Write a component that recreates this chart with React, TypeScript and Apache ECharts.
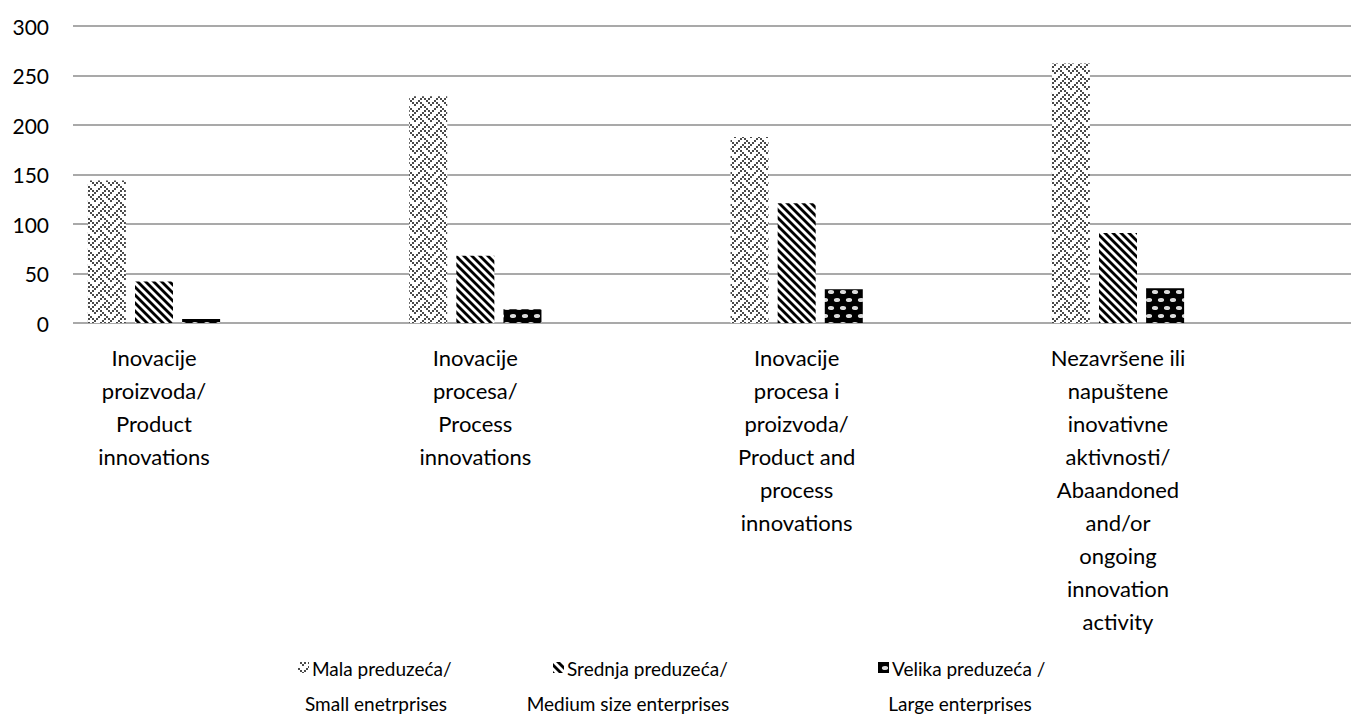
import React, { useEffect, useRef } from 'react';
import * as echarts from 'echarts';

const categories = [
  'Inovacije\nproizvoda/\nProduct\ninnovations',
  'Inovacije\nprocesa/\nProcess\ninnovations',
  'Inovacije\nprocesa i\nproizvoda/\nProduct and\nprocess\ninnovations',
  'Nezavršene ili\nnapuštene\ninovativne\naktivnosti/\nAbaandoned\nand/or\nongoing\ninnovation\nactivity',
];
const smallValues = [144, 229, 188, 262];
const mediumValues = [42, 68, 121, 91];
const largeValues = [4, 14, 34, 35];
const seriesNames = ['Mala preduzeća/', 'Srednja preduzeća/', 'Velika preduzeća /'];
const seriesNamesLine2 = ['Small enetrprises', 'Medium size enterprises', 'Large enterprises'];
const yMin = 0;
const yMax = 300;
const yInterval = 50;

const FONT = 'Lato, "Open Sans", sans-serif';

function tile(w: number, h: number, draw: (ctx: CanvasRenderingContext2D) => void) {
  const c = document.createElement('canvas');
  c.width = w;
  c.height = h;
  const ctx = c.getContext('2d') as CanvasRenderingContext2D;
  draw(ctx);
  return { image: c.toDataURL(), imageWidth: w, imageHeight: h, repeat: 'repeat' };
}

function makePatterns() {
  const weaveBits = [0x11, 0x2a, 0x44, 0xa2, 0x11, 0x28, 0x44, 0x8a];
  const weave = tile(16, 16, (ctx) => {
    ctx.fillStyle = '#ffffff';
    ctx.fillRect(0, 0, 16, 16);
    ctx.fillStyle = '#4a4a4a';
    for (let r = 0; r < 8; r++) {
      for (let b = 0; b < 8; b++) {
        if (weaveBits[r] & (0x80 >> b)) ctx.fillRect(b * 2, r * 2, 2, 2);
      }
    }
  });
  const stripes = tile(8, 8, (ctx) => {
    ctx.fillStyle = '#ffffff';
    ctx.fillRect(0, 0, 8, 8);
    ctx.strokeStyle = '#000000';
    ctx.lineWidth = 2.8;
    for (const o of [-8, 0, 8]) {
      ctx.beginPath();
      ctx.moveTo(o - 1, -1);
      ctx.lineTo(o + 9, 9);
      ctx.stroke();
    }
  });
  const dots = tile(12, 16, (ctx) => {
    ctx.fillStyle = '#000000';
    ctx.fillRect(0, 0, 12, 16);
    ctx.fillStyle = '#dcdcdc';
    for (const [cx, cy] of [[3, 4], [9, 12]]) {
      ctx.beginPath();
      ctx.ellipse(cx, cy, 3.1, 2.0, 0, 0, Math.PI * 2);
      ctx.fill();
    }
  });
  return [weave, stripes, dots];
}

export default function App() {
  const ref = useRef<HTMLDivElement>(null);
  useEffect(() => {
    if (!ref.current) return;
    const chart = echarts.init(ref.current, null, { renderer: 'svg' });
    const patterns = makePatterns();
    const values = [smallValues, mediumValues, largeValues];

    const legendIconX = [298, 553, 878];
    const legendLine2X = [376, 628, 960];
    const legendGraphics: any[] = [];
    for (let i = 0; i < 3; i++) {
      legendGraphics.push({
        type: 'rect',
        shape: { x: legendIconX[i], y: 662, width: 11, height: 11 },
        style: { fill: patterns[i] as any },
      });
      legendGraphics.push({
        type: 'text',
        style: {
          text: seriesNames[i], x: legendIconX[i] + 14, y: 668,
          font: `19px ${FONT}`, fill: '#000', textAlign: 'left', textVerticalAlign: 'middle',
          align: 'left', verticalAlign: 'middle',
        },
      });
      legendGraphics.push({
        type: 'text',
        style: {
          text: seriesNamesLine2[i], x: legendLine2X[i], y: 703,
          font: `19px ${FONT}`, fill: '#000', textAlign: 'center', textVerticalAlign: 'middle',
          align: 'center', verticalAlign: 'middle',
        },
      });
    }

    chart.setOption({
      animation: false,
      backgroundColor: '#ffffff',
      grid: [
        { left: 73, right: 0, top: 26, height: 297 },
        { left: 154, right: 233, top: 26, height: 297 },
      ],
      xAxis: [
        { type: 'category', gridIndex: 0, data: categories, show: false },
        {
          type: 'category', gridIndex: 1, data: categories, boundaryGap: false,
          axisLine: { show: false }, axisTick: { show: false },
          axisLabel: {
            interval: 0, margin: 18, color: '#000', fontSize: 22, fontFamily: FONT,
            lineHeight: 33, align: 'center',
          },
        },
      ],
      yAxis: [
        {
          type: 'value', gridIndex: 0, min: yMin, max: yMax, interval: yInterval,
          axisLine: { show: false }, axisTick: { show: false },
          axisLabel: { margin: 24, color: '#000', fontSize: 21, fontFamily: FONT },
          splitLine: { lineStyle: { color: '#8c8c8c', width: 1.6 } },
        },
        {
          type: 'value', gridIndex: 1, min: yMin, max: yMax, interval: yInterval, show: false,
          splitLine: { show: false },
        },
      ],
      series: values.map((v, i) => ({
        type: 'bar',
        name: seriesNames[i],
        xAxisIndex: 1,
        yAxisIndex: 1,
        data: v,
        barWidth: 38,
        barGap: '24%',
        clip: false,
        itemStyle: { color: patterns[i] as any },
      })),
      graphic: legendGraphics,
    });
    return () => chart.dispose();
  }, []);
  return <div ref={ref} style={{ width: 1351, height: 720, position: 'absolute', left: 0, top: 0 }} />;
}
